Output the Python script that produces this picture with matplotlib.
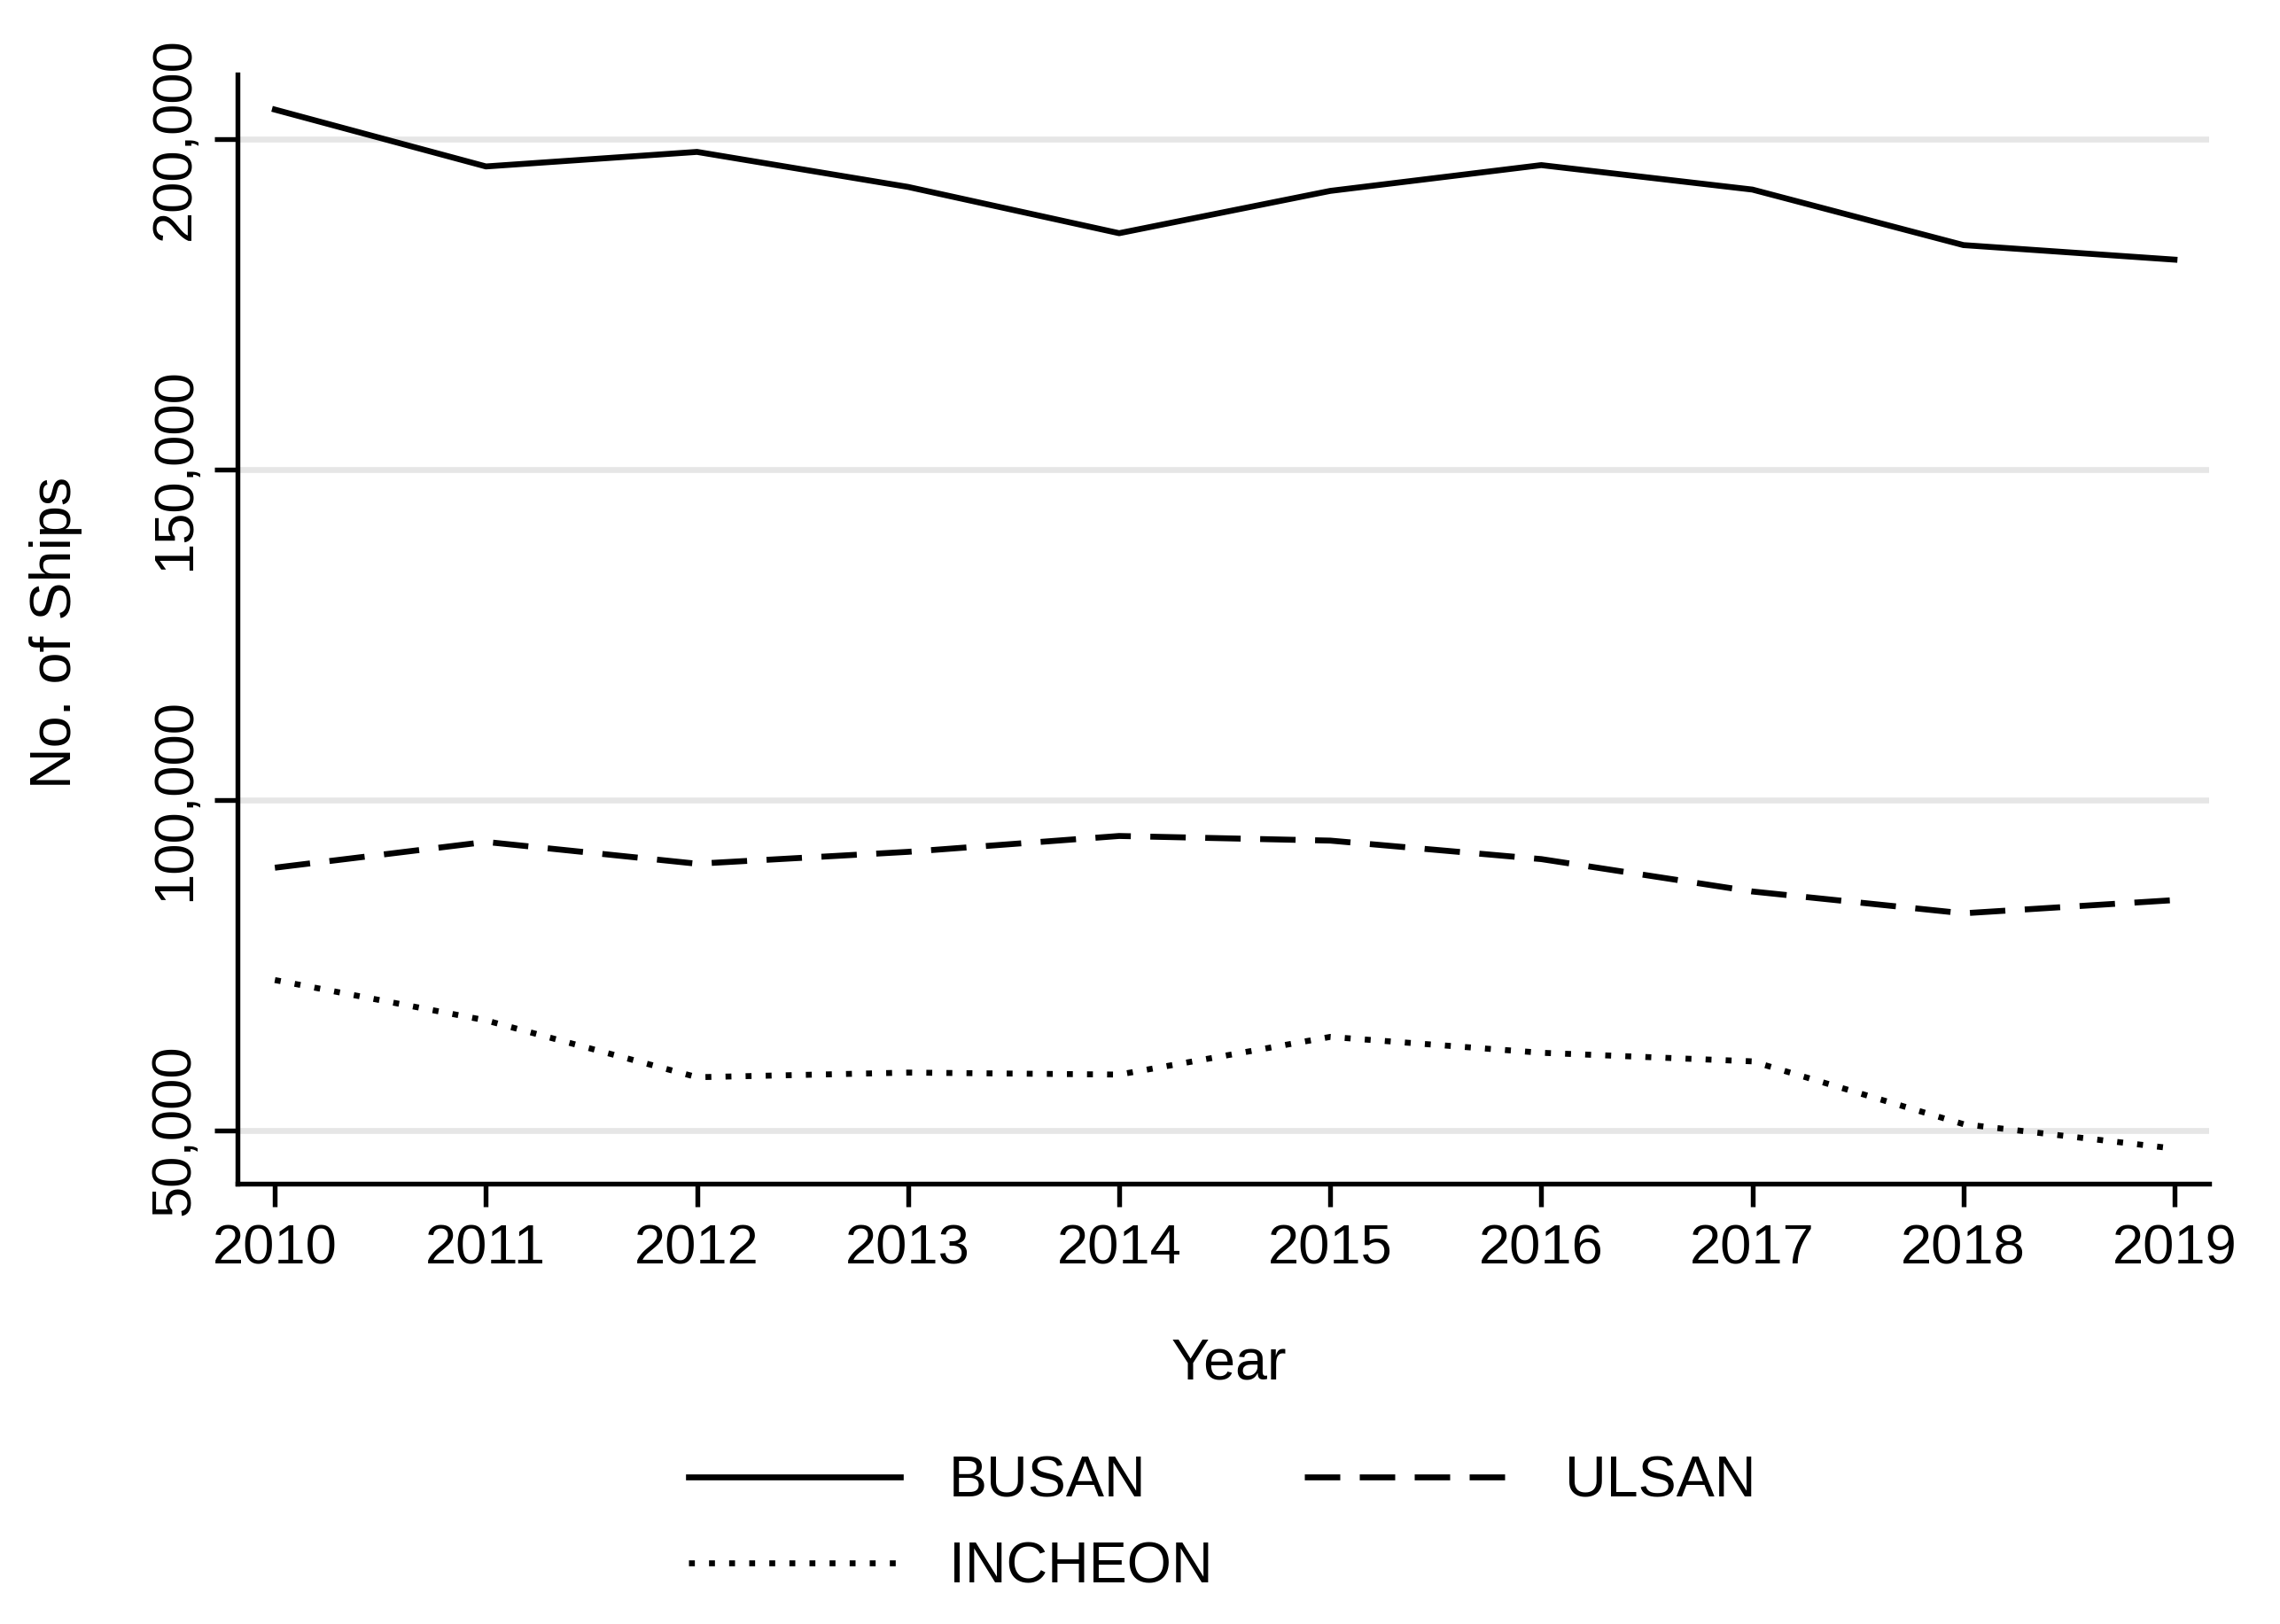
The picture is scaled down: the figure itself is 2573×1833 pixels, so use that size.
import matplotlib
matplotlib.use("Agg")
import matplotlib.pyplot as plt
from matplotlib.ticker import FuncFormatter

plt.rcParams['font.family'] = ['Liberation Sans', 'DejaVu Sans']

years = [2010, 2011, 2012, 2013, 2014, 2015, 2016, 2017, 2018, 2019]
busan = [204400, 195800, 198000, 192700, 185700, 192100, 196000, 192300, 183900, 181700]
ulsan = [89700, 93600, 90300, 92100, 94500, 93800, 91000, 86100, 82800, 84800]
incheon = [72700, 66600, 58000, 58700, 58400, 64100, 61700, 60400, 50900, 47200]
y_ticks = [50000, 100000, 150000, 200000]

fig = plt.figure(figsize=(2573 / 300, 1833 / 300), dpi=300)
ax = fig.add_axes([0.104, 0.271, 0.865, 0.683])

lw = 1.6
l_busan, = ax.plot(years, busan, color='black', lw=lw, label='BUSAN', zorder=3)
l_ulsan, = ax.plot(years, ulsan, color='black', lw=lw, label='ULSAN',
                   dashes=(6.0, 3.3), zorder=3)
l_inch, = ax.plot(years, incheon, color='black', lw=lw, label='INCHEON',
                  dashes=(1.0, 2.4), dash_capstyle='butt', zorder=3)

ax.set_xlim(2009.821, 2019.165)
ax.set_ylim(41860, 209680)
ax.set_xticks(years)
ax.set_yticks(y_ticks)
ax.yaxis.set_major_formatter(FuncFormatter(lambda v, p: f"{int(v):,}"))

ax.grid(axis='y', color='#e6e6e6', lw=1.6, zorder=0)
ax.set_axisbelow(True)

for s in ['top', 'right']:
    ax.spines[s].set_visible(False)
for s in ['left', 'bottom']:
    ax.spines[s].set_linewidth(1.3)

ax.tick_params(axis='both', direction='out', length=6.3, width=1.3, labelsize=15.2)
ax.tick_params(axis='x', pad=4.2)
ax.tick_params(axis='y', pad=3.5)
for lab in ax.get_yticklabels():
    lab.set_rotation(90)
    lab.set_va('center')

ax.set_xlabel('Year', fontsize=15.5)
ax.xaxis.label.set_va('center')
ax.xaxis.set_label_coords(0.503, -0.162)
ax.set_ylabel('No. of Ships', fontsize=15.5)
ax.yaxis.label.set_va('center')
ax.yaxis.set_label_coords(-0.092, 0.497)

fig.legend(handles=[l_busan, l_inch, l_ulsan], ncol=2, loc='center',
           bbox_to_anchor=(0.536, 0.061), frameon=False, fontsize=15.5,
           handlelength=3.7, handletextpad=0.85, columnspacing=1.6,
           labelspacing=0.58)

fig.savefig('out.png', dpi=300)
